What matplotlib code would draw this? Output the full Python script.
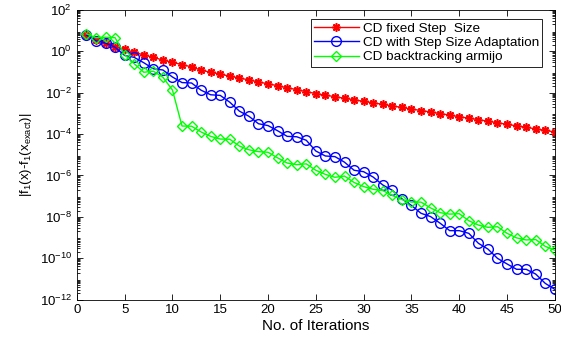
import numpy as np
import matplotlib
matplotlib.use("Agg")
from matplotlib import pyplot as plt

plt.rcParams['font.family'] = ['Liberation Sans', 'DejaVu Sans']
plt.rcParams['mathtext.default'] = 'regular'

iters = np.arange(1, 51)

# log10 of |f1(x)-f1(x_exact)|
fixed_log = [0.79, 0.55, 0.42, 0.22, 0.10, -0.05, -0.17, -0.29, -0.42, -0.53,
             -0.64, -0.75, -0.91, -1.01, -1.10, -1.20, -1.29, -1.38, -1.48, -1.57,
             -1.66, -1.76, -1.85, -1.95, -2.04, -2.12, -2.19, -2.27, -2.34, -2.42,
             -2.49, -2.56, -2.64, -2.71, -2.79, -2.86, -2.93, -3.01, -3.08, -3.16,
             -3.23, -3.30, -3.38, -3.45, -3.53, -3.60, -3.67, -3.75, -3.82, -3.90]
adapt_log = [0.79, 0.51, 0.40, 0.20, -0.20, -0.29, -0.55, -0.84, -0.90, -1.24,
             -1.51, -1.53, -1.88, -2.10, -2.13, -2.46, -2.89, -3.14, -3.50, -3.59,
             -3.84, -4.11, -4.13, -4.30, -4.82, -5.06, -5.09, -5.36, -5.75, -5.82,
             -6.08, -6.46, -6.72, -7.13, -7.45, -7.83, -7.99, -8.31, -8.67, -8.67,
             -8.80, -9.28, -9.56, -10.01, -10.28, -10.54, -10.54, -10.77, -11.22, -11.51]
armijo_log = [0.85, 0.66, 0.68, 0.66, -0.16, -0.60, -1.01, -0.96, -1.25, -1.87,
              -3.61, -3.62, -3.90, -4.11, -4.24, -4.25, -4.58, -4.76, -4.85, -4.88,
              -5.15, -5.40, -5.48, -5.44, -5.75, -5.95, -6.09, -6.03, -6.34, -6.54,
              -6.67, -6.73, -6.97, -7.17, -7.29, -7.29, -7.57, -7.80, -7.87, -7.85,
              -8.19, -8.40, -8.51, -8.48, -8.80, -9.02, -9.12, -9.10, -9.43, -9.62]

fixed = 10.0 ** np.array(fixed_log)
adapt = 10.0 ** np.array(adapt_log)
armijo = 10.0 ** np.array(armijo_log)

fig = plt.figure(figsize=(5.61, 3.39), dpi=100)
ax = fig.add_axes([0.137, 0.1165, 0.852, 0.854])

ax.semilogy(iters, fixed, color='red', lw=1, marker=(8, 2, 0), ms=6,
            mew=1.2, label='CD fixed Step  Size')
ax.semilogy(iters, adapt, color='blue', lw=1, marker='o', ms=7,
            mfc='none', mew=1, label='CD with Step Size Adaptation')
ax.semilogy(iters, armijo, color='#00ff00', lw=1, marker='D', ms=5.5,
            mfc='none', mew=1, label='CD backtracking armijo')

ax.set_xlim(0, 50)
ax.set_ylim(1e-12, 1e2)
ax.set_xticks(np.arange(0, 51, 5))
ax.set_yticks([10.0 ** k for k in range(-12, 3, 2)])
ax.yaxis.set_minor_locator(matplotlib.ticker.LogLocator(base=10, subs=np.arange(2, 10), numticks=30))
ax.tick_params(which='both', direction='in', top=True, right=True, labelsize=9.5, width=0.6)
ax.tick_params(which='major', length=4)
ax.tick_params(which='minor', length=2)
for s in ax.spines.values():
    s.set_linewidth(0.6)

ax.set_xlabel('No. of Iterations', fontsize=11, labelpad=2)
ax.set_ylabel(r'|f$_1$(x)-f$_1$(x$_{exact}$)|', fontsize=9.5)

leg = ax.legend(loc='upper right', fontsize=9.7, fancybox=False, framealpha=1,
                edgecolor='black', borderpad=0.25, labelspacing=0.15,
                handlelength=3.3, handletextpad=0.3,
                bbox_to_anchor=(0.988, 0.993))
leg.get_frame().set_linewidth(0.6)

fig.savefig('out.png', dpi=100)
